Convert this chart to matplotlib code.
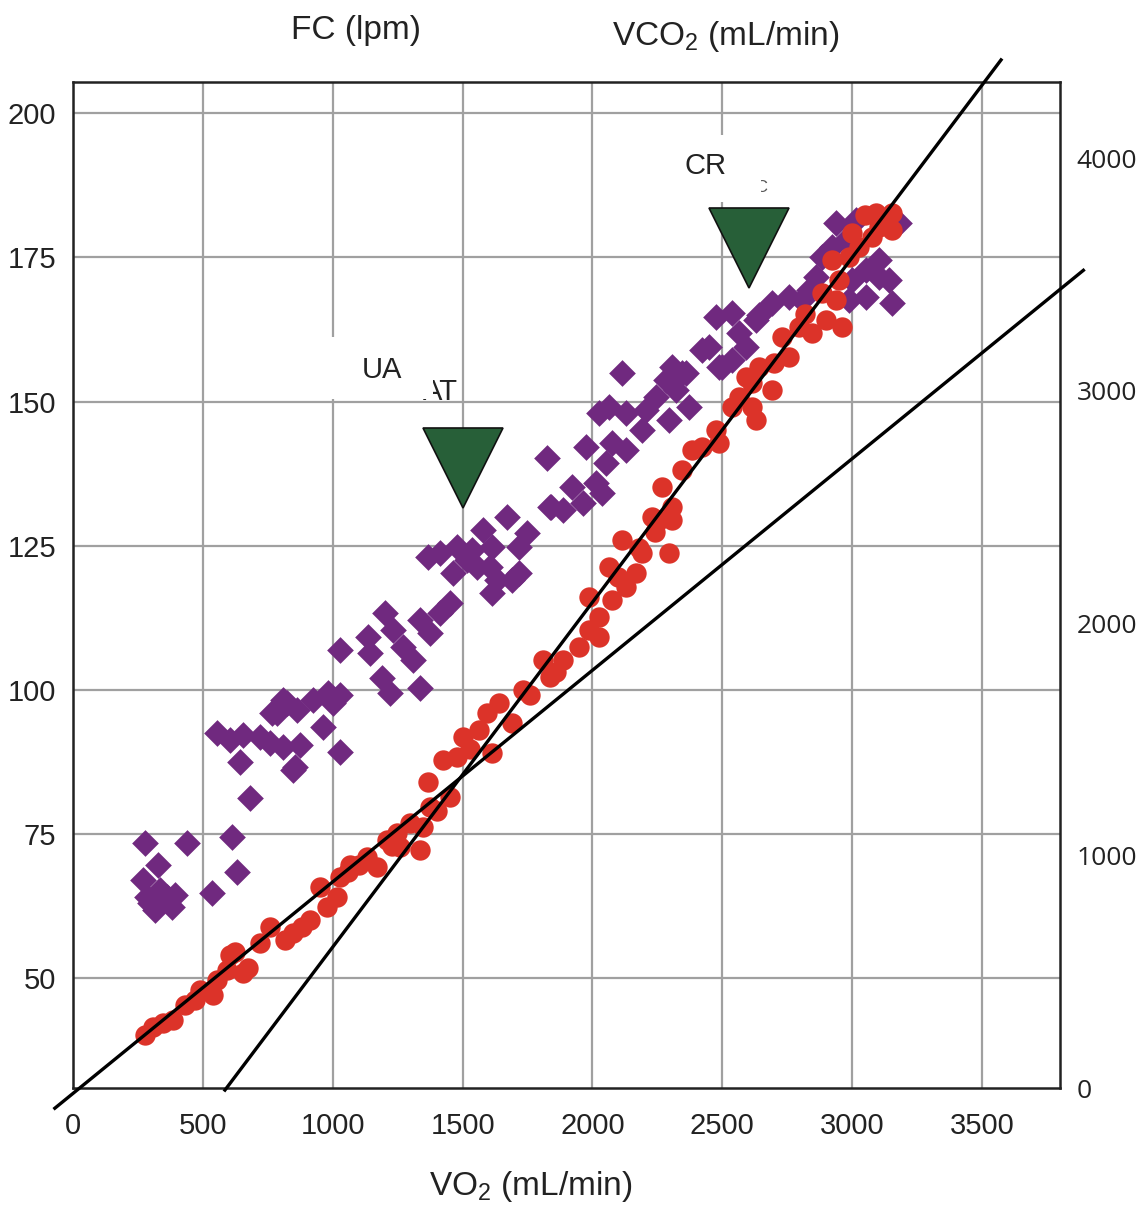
import matplotlib
matplotlib.use('Agg')
import matplotlib.pyplot as plt
from matplotlib.patches import Rectangle

plt.rcParams['font.family'] = ['Liberation Sans', 'DejaVu Sans']
plt.rcParams['mathtext.fontset'] = 'custom'
plt.rcParams['mathtext.rm'] = 'Liberation Sans'
plt.rcParams['mathtext.it'] = 'Liberation Sans'
plt.rcParams['mathtext.bf'] = 'Liberation Sans'
plt.rcParams['mathtext.default'] = 'regular'

# ---------------- data ----------------
x_ticks = [0, 500, 1000, 1500, 2000, 2500, 3000, 3500]
fc_ticks = [50, 75, 100, 125, 150, 175, 200]
vco2_ticks = [0, 1000, 2000, 3000, 4000]

# Heart rate (FC, lpm) vs VO2 (purple diamonds, left axis)
fc_vo2 = [277, 438, 612, 327, 631, 535, 269, 285, 323, 362, 392, 335, 381, 315, 296,
          681, 554, 604, 654, 642, 719, 758, 808, 846, 873, 854, 785, 823, 862, 923,
          962, 1027, 1000, 1027, 765, 808, 981, 1027, 1135, 1142, 1188, 1219, 1200,
          1231, 1269, 1308, 1335, 1335, 1373, 1412, 1450, 1365, 1412, 1477, 1462, 1515,
          1538, 1554, 1577, 1615, 1604, 1631, 1615, 1669, 1692, 1719, 1746, 1835,
          1823, 1842, 1885, 1923, 1962, 1977, 2015, 2038, 2027, 2065, 2054, 2077, 2131,
          2115, 2131, 2192, 2208, 2246, 2285, 2308, 2346, 2323, 2296, 2373, 2423, 2488,
          2538, 2592, 1719, 2477, 2500, 2538, 2565, 2631, 2692, 2758, 2808, 2862, 2885,
          2923, 2938, 3015, 2977, 3054, 3104, 3142, 3054, 3154, 2988, 3104, 3181, 2362,
          2642, 2450, 2835, 3000]
fc_bpm = [73.4, 73.4, 74.5, 69.6, 68.4, 64.8, 67.0, 64.1, 63.0, 64.1, 64.4, 65.3, 62.3, 61.8, 63.0,
          81.2, 92.5, 91.3, 92.2, 87.5, 91.8, 90.8, 90.1, 86.1, 90.4, 86.6, 96.0, 97.7, 96.5, 98.2,
          93.6, 89.2, 97.7, 99.1, 96.0, 98.2, 99.4, 106.9, 109.2, 106.4, 102.0, 99.4, 113.3,
          110.4, 107.4, 105.2, 100.3, 112.1, 109.8, 113.3, 115.0, 123.0, 123.7, 124.8, 120.2, 122.5,
          124.2, 121.3, 127.7, 124.8, 121.3, 119.0, 116.8, 130.0, 119.0, 124.8, 127.2, 131.7,
          140.2, 131.7, 131.2, 135.2, 132.4, 142.1, 135.9, 134.1, 148.0, 149.0, 139.3, 142.8, 141.6,
          154.9, 148.0, 145.0, 148.5, 150.8, 153.7, 156.0, 154.9, 152.0, 146.8, 149.0, 158.9, 156.0,
          157.2, 159.4, 120.2, 164.6, 156.0, 165.3, 161.9, 164.1, 167.1, 168.1, 167.6, 171.6, 175.0,
          176.8, 180.9, 181.5, 178.0, 172.8, 171.6, 171.0, 168.1, 167.1, 167.6, 174.5, 180.9, 154.9,
          165.0, 159.4, 169.3, 171.0]

# VCO2 (mL/min) vs VO2 (red circles, right axis)
vco2_vo2 = [277, 308, 346, 385, 431, 538, 554, 592, 623, 654, 673, 719, 758, 815, 846, 881,
            912, 950, 977, 1015, 1027, 1065, 1131, 1169, 1208, 1246, 1258, 1335, 1296, 1346,
            1373, 1365, 1450, 1423, 1477, 1500, 1565, 1615, 1592, 1642, 1692, 1731, 1808, 1835,
            1885, 1950, 1988, 2027, 2027, 1988, 2077, 2131, 2065, 2115, 2192, 2169, 2296, 2258,
            2308, 2231, 2269, 2308, 2346, 2385, 2423, 2477, 2488, 2538, 2565, 2615, 2642, 2692,
            2631, 2615, 2592, 2731, 2758, 2796, 2846, 2900, 2962, 2885, 2938, 2950, 2923, 2988,
            3027, 3000, 3077, 3104, 3154, 3154, 3092, 3050, 488, 469, 604, 2181,
            1060, 1100, 1230, 1400, 1530, 1760, 1860, 2100, 2240, 2700, 2820, 3120]
vco2_ml = [228, 262, 280, 292, 357, 400, 465, 507, 585, 495, 516, 624, 692, 637, 667, 692,
           723, 864, 778, 821, 908, 959, 994, 951, 1067, 1097, 1037, 1024, 1140, 1123,
           1209, 1316, 1252, 1411, 1424, 1510, 1540, 1441, 1613, 1656, 1570, 1712, 1841, 1768,
           1841, 1897, 1970, 1940, 2026, 2112, 2099, 2155, 2241, 2357, 2301, 2215, 2301, 2443,
           2443, 2456, 2585, 2499, 2658, 2744, 2757, 2830, 2774, 2929, 2972, 3032, 3101, 3002,
           2873, 2929, 3058, 3230, 3144, 3273, 3247, 3303, 3273, 3419, 3389, 3475, 3561, 3574,
           3617, 3677, 3660, 3703, 3763, 3690, 3763, 3755, 421, 378, 572, 2322,
           930, 960, 1040, 1190, 1460, 1690, 1790, 2200, 2390, 3120, 3330, 3720]

# fitted lines (VO2, VCO2)
line1_vo2 = [-70, 3890]
line1_vco2 = [-87, 3517]
line2_vo2 = [585, 3573]
line2_vco2 = [-9, 4422]

# threshold markers (VO2, FC-axis position)
thr_vo2 = [1500, 2604]
thr_fc = [138.4, 176.7]

# ---------------- figure ----------------
fig = plt.figure(figsize=(11.48, 12.12), dpi=100)
ax = fig.add_axes([73/1148, 1-1088/1212, (1060-73)/1148, (1088-82)/1212])
ax.set_xlim(0, 3800)
ax.set_ylim(31.0, 205.4)
ax.set_xticks(x_ticks)
ax.set_yticks(fc_ticks)
ax.grid(True, color='#a0a0a0', lw=1.6)
ax.set_axisbelow(True)
ax.tick_params(axis='both', length=0, labelsize=21, labelcolor='#222222')
ax.tick_params(axis='x', pad=17)
ax.tick_params(axis='y', pad=12)
for s in ax.spines.values():
    s.set_linewidth(1.8)
    s.set_color('#222222')

ax.scatter(fc_vo2, fc_bpm, marker='D', s=185, color='#70297f', linewidths=0, zorder=2)

# threshold triangles
ax.plot(thr_vo2, thr_fc, linestyle='none', marker='v', markersize=58,
        markerfacecolor='#275f38', markeredgecolor='#111111', markeredgewidth=1.2, zorder=6)

# labels with white cover boxes
ax.text(1481, 150.3, 'AT', ha='right', va='baseline', fontsize=21, zorder=3, color='#222222')
ax.add_patch(Rectangle((985, 150.4), 400, 10.8, facecolor='white', edgecolor='none', zorder=3.5))
ax.text(1188, 155.4, 'UA', ha='center', va='center', fontsize=21, zorder=4, color='#222222')

ax.text(2673, 186.3, 'C', ha='right', va='baseline', fontsize=12, zorder=3, color='#555555')
ax.add_patch(Rectangle((2258, 184.6), 392, 11.6, facecolor='white', edgecolor='none', zorder=3.5))
ax.text(2435, 190.8, 'CR', ha='center', va='center', fontsize=21, zorder=4, color='#222222')

ax2 = ax.twinx()
ax2.set_ylim(0, 4327)
ax2.set_yticks(vco2_ticks)
ax2.tick_params(axis='y', length=0, labelsize=19, pad=12, labelcolor='#222222')
for lab in ax2.get_yticklabels():
    lab.set_fontfamily(['Open Sans', 'DejaVu Sans'])
for s in ax2.spines.values():
    s.set_visible(False)

ax2.scatter(vco2_vo2, vco2_ml, marker='o', s=215, color='#dc3329', linewidths=0, zorder=2)
ax2.plot(line1_vo2, line1_vco2, color='black', lw=2.4, clip_on=False, zorder=3)
ax2.plot(line2_vo2, line2_vco2, color='black', lw=2.4, clip_on=False, zorder=3)

fig.text(356/1148, 1-30/1212, 'FC (lpm)', ha='center', va='center', fontsize=24, color='#222222')
fig.text(726/1148, 1-36/1212, 'VCO$_2$ (mL/min)', ha='center', va='center', fontsize=24, color='#222222')
fig.text(531/1148, 1-1187/1212, 'VO$_2$ (mL/min)', ha='center', va='center', fontsize=24, color='#222222')

fig.savefig('out.png', dpi=100, facecolor='white')
